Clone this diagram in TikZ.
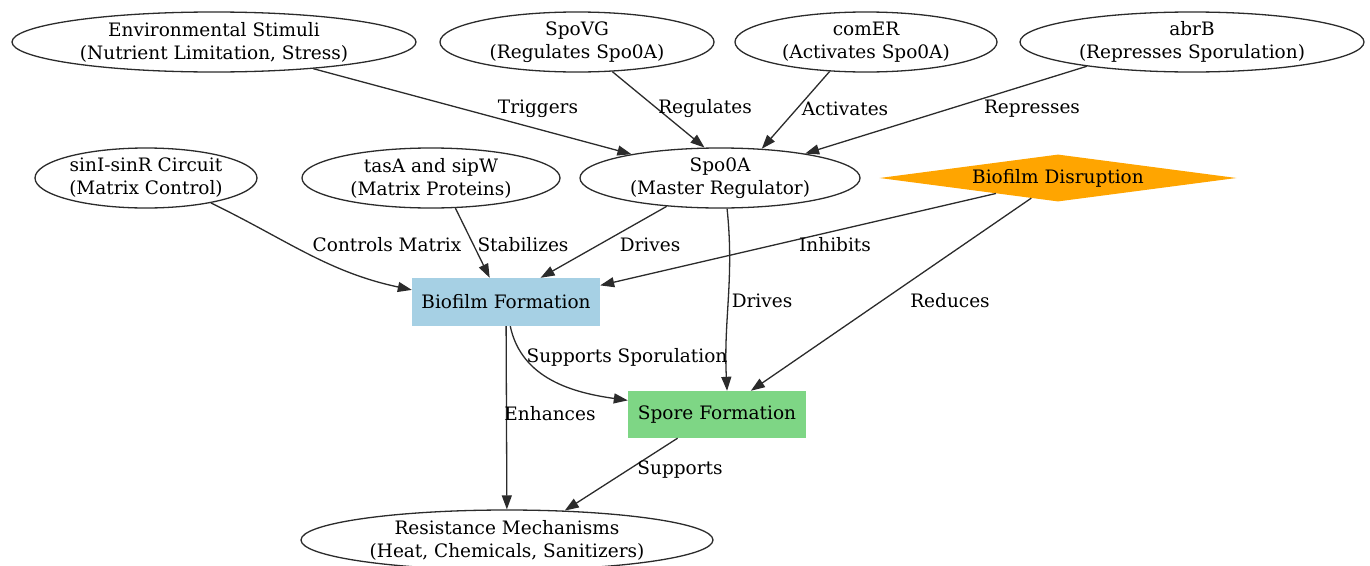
\documentclass[tikz,border=0pt]{standalone}
\usepackage{fontspec}
\setmainfont{DejaVu Serif}
\usetikzlibrary{shapes.geometric,arrows.meta,calc}
\definecolor{bioblue}{HTML}{A6D0E4}
\definecolor{sporegreen}{HTML}{7ED685}
\definecolor{disorange}{HTML}{FFA500}
\definecolor{edgecol}{HTML}{2B2B2B}
\tikzset{
  base/.style={inner sep=0pt, align=center, font=\fontsize{18.5}{23}\selectfont},
  oval/.style={base, ellipse, draw=edgecol, line width=1.3pt},
  boxnode/.style={base, rectangle, draw=none},
  lbl/.style={inner sep=0pt, font=\fontsize{18.5}{23}\selectfont},
  conn/.style={draw=edgecol, line width=1.3pt, -{Triangle[length=14pt,width=10pt]}},
}
\begin{document}
\begin{tikzpicture}[x=1pt,y=-1pt]
\useasboundingbox (0,0) rectangle (1370,565);
\clip (0,0) rectangle (1370,565);
% nodes
\node[oval, minimum width=404pt, minimum height=60pt] (env) at (214,42) {Environmental Stimuli\\(Nutrient Limitation, Stress)};
\node[oval, minimum width=274pt, minimum height=60pt] (spovg) at (577,42) {SpoVG\\(Regulates Spo0A)};
\node[oval, minimum width=262pt, minimum height=60pt] (comer) at (866,42) {comER\\(Activates Spo0A)};
\node[oval, minimum width=344pt, minimum height=60pt] (abrb) at (1192,42) {abrB\\(Represses Sporulation)};
\node[oval, minimum width=222pt, minimum height=60pt] (sini) at (146,178) {sinI-sinR Circuit\\(Matrix Control)};
\node[oval, minimum width=258pt, minimum height=60pt] (tasa) at (431,178) {tasA and sipW\\(Matrix Proteins)};
\node[oval, minimum width=280pt, minimum height=60pt] (spo0a) at (720,178) {Spo0A\\(Master Regulator)};
\node[base, diamond, fill=disorange, aspect=7.6, minimum width=357pt, minimum height=47pt] (disrupt) at (1058,178) {Biofilm Disruption};
\node[boxnode, fill=bioblue, minimum width=188pt, minimum height=48pt] (bioform) at (506,302) {Biofilm Formation};
\node[boxnode, fill=sporegreen, minimum width=178pt, minimum height=47pt] (spore) at (717,414.5) {Spore Formation};
\node[oval, minimum width=412pt, minimum height=60pt] (resist) at (507,540) {Resistance Mechanisms\\(Heat, Chemicals, Sanitizers)};
% connectors
\draw[conn] (env) -- (spo0a);
\draw[conn] (spovg.-40) -- (spo0a.117);
\draw[conn] (comer.-141) -- (spo0a.35);
\draw[conn] (abrb.-167) -- (spo0a.16);
\draw[conn] (sini.-21) to[out=-26,in=168] ($(bioform.north west)!0.25!(bioform.south west)$);
\draw[conn] (tasa.-51) -- (bioform.124);
\draw[conn] (spo0a.-152) -- (bioform.35);
\draw[conn] (disrupt.-166) -- (bioform.10);
\draw[conn] (spo0a.-77) to[out=-84,in=93] (spore.67);
\draw[conn] (disrupt.-143) -- (spore.35);
\draw[conn] (bioform.-80) to[out=-78,in=172] (spore.171);
\draw[conn] (bioform) -- (resist);
\draw[conn] (spore.-149) -- (resist.27);
% labels
\node[lbl] (l1) at (538,109) {Triggers};
\node[lbl] (l2) at (705,109) {Regulates};
\node[lbl] (l3) at (845,109) {Activates};
\node[lbl] (l4) at (1032,109) {Represses};
\node[lbl] (l5) at (387,245) {Controls Matrix};
\node[lbl] (l6) at (523,245) {Stabilizes};
\node[lbl] (l7) at (650,245) {Drives};
\node[lbl] (l8) at (835,245) {Inhibits};
\node[lbl] (l9) at (762,301) {Drives};
\node[lbl] (l10) at (950,301) {Reduces};
\node[lbl] (l11) at (627,357) {Supports Sporulation};
\node[lbl] (l12) at (550,414) {Enhances};
\node[lbl] (l13) at (680,470) {Supports};
\end{tikzpicture}
\end{document}
